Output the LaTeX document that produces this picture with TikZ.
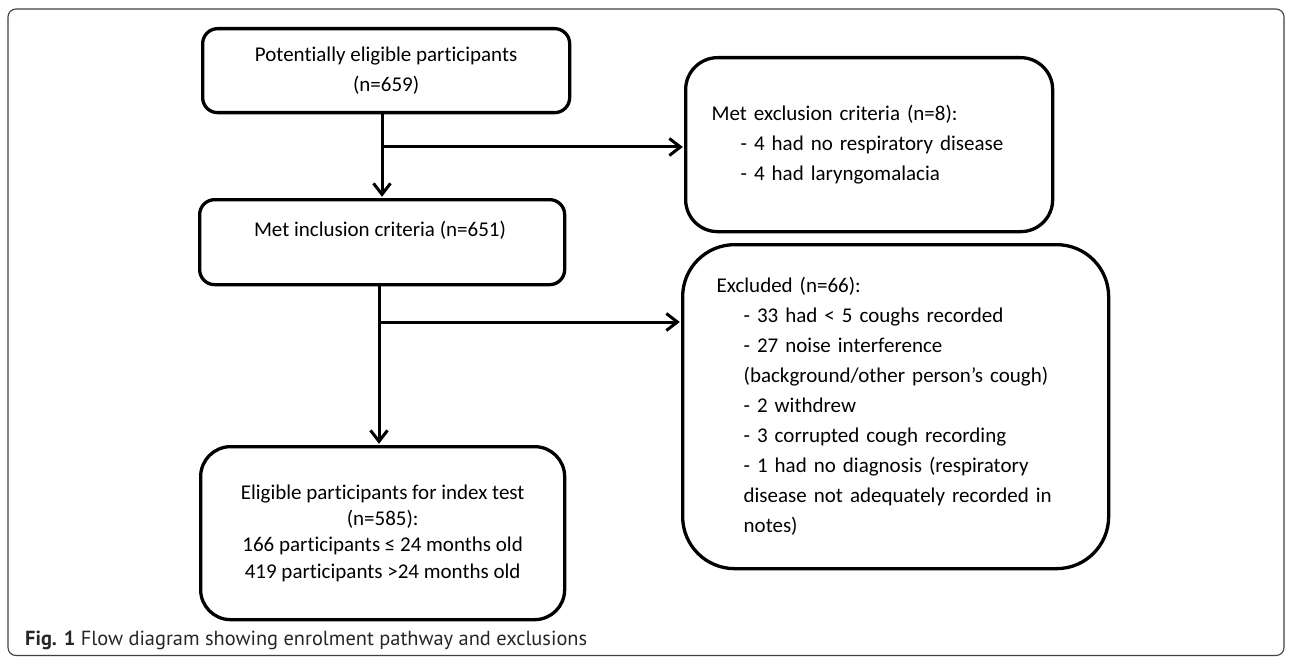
\documentclass[tikz,border=0pt]{standalone}
\usepackage{fontspec}
\setmainfont[Ligatures={NoCommon}]{Carlito}
\newfontfamily\capfont{PT Sans}
\usetikzlibrary{arrows.meta}
\begin{document}
\begin{tikzpicture}[x=1pt,y=-1pt,
  box/.style={draw=black, line width=3.3pt, anchor=north west, inner sep=0pt,
              font=\fontsize{21}{30}\selectfont},
  conn/.style={draw=black, line width=3pt},
  arr/.style={conn, -{Straight Barb[length=11pt,width=17pt,line width=3pt]}, shorten >=1.2pt},
  frame/.style={draw=black!75, line width=1.1pt, rounded corners=8pt}]
\useasboundingbox (0,0) rectangle (1290,658);
\draw[frame] (8,9) rectangle (1284,655.5);

% left column
\node[box, rounded corners=15pt, minimum width=367pt, minimum height=84pt, align=center]
  (b1) at (201,27) {Potentially eligible participants\\(n=659)};
\node[box, rounded corners=15pt, minimum width=365pt, minimum height=85pt]
  (b2) at (198,198) {};
\node[font=\fontsize{21}{30}\selectfont, inner sep=0pt] (t2) at (380,230) {Met inclusion criteria (n=651)};
\node[box, rounded corners=30pt, minimum width=364pt, minimum height=173pt, align=center,
      font=\fontsize{21}{26.3}\selectfont]
  (b3) at (199,445) {Eligible participants for index test\\(n=585):\\166 participants \char"2264{} 24 months old\\419 participants >24 months old};

% right column
\node[box, rounded corners=32pt, minimum width=367pt, minimum height=174pt,
      text width=315pt, align=left]
  (ex1) at (684,56) {Met exclusion criteria (n=8):\\
  \hspace*{29pt}- 4 had no respiratory disease\\
  \hspace*{29pt}- 4 had laryngomalacia};
\node[box, rounded corners=52pt, minimum width=426pt, minimum height=324pt,
      text width=358pt, align=left]
  (ex2) at (681,243) {Excluded (n=66):\\
  \hspace*{27pt}- 33 had < 5 coughs recorded\\
  \hspace*{27pt}- 27 noise interference\\
  \hspace*{27pt}(background/other person{\char"27}s cough)\\
  \hspace*{27pt}- 2 withdrew\\
  \hspace*{27pt}- 3 corrupted cough recording\\
  \hspace*{27pt}- 1 had no diagnosis (respiratory\\
  \hspace*{27pt}disease not adequately recorded in\\
  \hspace*{27pt}notes)};

% connectors
\coordinate (j1) at (382,147);
\coordinate (j2) at (379,322);
\draw[conn] (b1.south -| j1) -- (j1);
\draw[arr] (j1) -- (b2.north -| j1);
\draw[arr] (j1) -- (j1 -| ex1.west);
\draw[conn] (b2.south -| j2) -- (j2);
\draw[arr] (j2) -- (b3.north -| j2);
\draw[arr] (j2) -- (j2 -| ex2.west);

% caption
\node[anchor=west, inner sep=0pt, font=\capfont\fontsize{20.4}{23}\selectfont, text=black!85]
  (cap) at (25,640) {\textbf{Fig. 1} Flow diagram showing enrolment pathway and exclusions};
\end{tikzpicture}
\end{document}
